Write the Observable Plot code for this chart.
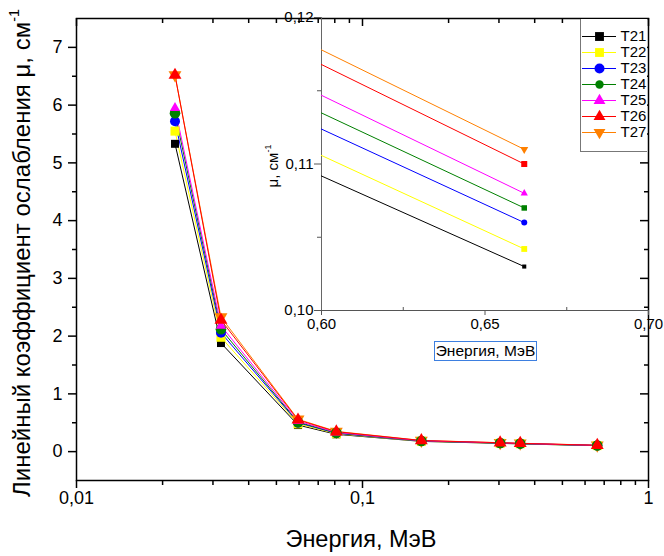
<!DOCTYPE html>
<html><head><meta charset="utf-8">
<script src="https://cdn.jsdelivr.net/npm/d3@7"></script>
<script src="https://cdn.jsdelivr.net/npm/@observablehq/plot@0.6"></script>
<style>
body{margin:0;background:#fff;font-family:"Liberation Sans",Arial,sans-serif;}
#wrap{position:relative;width:664px;height:556px;overflow:hidden;background:#fff;}
.layer{position:absolute;}
.lbl{position:absolute;white-space:nowrap;color:#000;font-family:"Liberation Sans",Arial,sans-serif;}
.lbl sup{font-size:0.6em;vertical-align:0.75em;line-height:0;}
</style></head><body><div id="wrap"></div>
<script>
// ---- data ----
const energies = [0.0221, 0.032, 0.0595, 0.081, 0.1606, 0.3029, 0.356, 0.662];
const seriesNames = ["T21","T22","T23","T24","T25","T26","T27"];
const T21 = [5.33, 1.88, 0.46, 0.300, 0.177, 0.143, 0.1335, 0.1030];
const T22 = [5.55, 1.98, 0.48, 0.310, 0.180, 0.145, 0.1357, 0.1042];
const T23 = [5.72, 2.06, 0.50, 0.318, 0.183, 0.147, 0.1375, 0.1060];
const T24 = [5.86, 2.12, 0.51, 0.325, 0.185, 0.149, 0.1390, 0.1070];
const T25 = [5.95, 2.18, 0.53, 0.332, 0.188, 0.151, 0.1410, 0.1080];
const T26 = [6.52, 2.28, 0.55, 0.345, 0.192, 0.1535, 0.1435, 0.1100];
const T27 = [6.52, 2.33, 0.56, 0.350, 0.194, 0.1545, 0.1445, 0.1110];
const seriesValues = [T21, T22, T23, T24, T25, T26, T27];
const colors = ["#000000","#ffff00","#0000ff","#008000","#ff00ff","#ff0000","#ff8000"];
const xTicks = [0.01, 0.1, 1];
const xMinor = [0.02,0.03,0.04,0.05,0.06,0.07,0.08,0.09,0.2,0.3,0.4,0.5,0.6,0.7,0.8,0.9];
const yTicks = [0,1,2,3,4,5,6,7];
const yMinor = [0.5,1.5,2.5,3.5,4.5,5.5,6.5];
const insetXTicks = [0.60,0.65,0.70];
const insetXMinor = [0.625,0.675];
const insetYTicks = [0.10,0.11,0.12];
const insetYMinor = [0.105,0.115];

// ---- helpers ----
const triDown = {draw(ctx, size){ const y = -Math.sqrt(size/(Math.sqrt(3)*3)); ctx.moveTo(0,-2*y); ctx.lineTo(-Math.sqrt(3)*y, y); ctx.lineTo(Math.sqrt(3)*y, y); ctx.closePath(); }};
const mainSymbols = ["square","square","circle","circle","triangle","triangle",triDown];
const mainR = [4.5, 5.1, 5, 5.3, 3.8, 4.8, 4.8];
const insetSymbols = ["square","square","circle","square","triangle","square",triDown];
const insetR = [2.3, 3.3, 3, 3.1, 2.7, 3.4, 3];
const legendSymbols = ["square","square","circle","circle","triangle","triangle",triDown];
const legendR = [5, 5, 5, 4.2, 4.4, 4.4, 4.4];
const order = [6,0,1,2,3,4,5];
const rowsOf = i => energies.map((e,j)=>({series: seriesNames[i], energy: e, mu: seriesValues[i][j]}));
const comma = d => String(d).replace(".", ",");
const f2 = d => d3.format(".2f")(d).replace(".", ",");
const font = "font-family:'Liberation Sans',Arial,sans-serif;color:#000;background:transparent;overflow:visible;";

const wrap = document.getElementById("wrap");
function place(el, left, top){ const d=document.createElement("div"); d.className="layer"; d.style.left=left+"px"; d.style.top=top+"px"; d.appendChild(el); wrap.appendChild(d); return d; }

// ---- main chart ----
const W=664, H=556, mL=76, mR=16, mT=18, mB=76;
const iW = W-mL-mR, iH = H-mT-mB;
const main = Plot.plot({
  width: W, height: H, marginLeft: mL, marginRight: mR, marginTop: mT, marginBottom: mB,
  style: font + "font-size:18px;",
  x: {type: "log", domain: [0.01, 1]},
  y: {domain: [-0.5, 7.5]},
  marks: [
    Plot.axisX({ticks: xTicks, tickSize: 8, tickPadding: 3, tickFormat: comma, label: null, strokeWidth: 1.5}),
    Plot.axisX({ticks: xMinor, tickSize: 5, tickFormat: () => "", label: null, strokeWidth: 1.5}),
    Plot.axisY({ticks: yTicks, tickSize: 8, tickPadding: 6, tickFormat: d => String(d), label: null, strokeWidth: 1.5}),
    Plot.axisY({ticks: yMinor, tickSize: 4, tickFormat: () => "", label: null, strokeWidth: 1.5}),
    Plot.tickX(xTicks, {x: d => d, insetBottom: iH - 8, stroke: "#000", strokeWidth: 1.5}),
    Plot.tickX(xMinor, {x: d => d, insetBottom: iH - 5, stroke: "#000", strokeWidth: 1.5}),
    Plot.tickY(yTicks, {y: d => d, insetLeft: iW - 8, stroke: "#000", strokeWidth: 1.5}),
    Plot.tickY(yMinor, {y: d => d, insetLeft: iW - 4, stroke: "#000", strokeWidth: 1.5}),
    Plot.frame({stroke: "#000", strokeWidth: 1.5}),
    ...order.map(i => Plot.line(rowsOf(i), {x: "energy", y: "mu", stroke: colors[i], strokeWidth: 1})),
    ...order.map(i => Plot.dot(rowsOf(i), {x: "energy", y: "mu", symbol: mainSymbols[i], r: mainR[i], fill: colors[i], stroke: "none"}))
  ]
});
place(main, 0, 0);

// ---- inset ----
const IW=424, IH=372, imL=81, imR=16, imT=17, imB=62;
const iiH = IH-imT-imB;
const inset = Plot.plot({
  width: IW, height: IH, marginLeft: imL, marginRight: imR, marginTop: imT, marginBottom: imB,
  style: font + "font-size:15px;",
  x: {domain: [0.6, 0.7]},
  y: {domain: [0.10, 0.12]},
  marks: [
    Plot.axisX({ticks: insetXTicks, tickSize: 5, tickPadding: 3, tickFormat: f2, label: null, stroke: "#555"}),
    Plot.tickX(insetXMinor, {x: d => d, insetTop: iiH - 3, stroke: "#555"}),
    Plot.axisY({ticks: insetYTicks, tickSize: 7, tickPadding: 1, tickFormat: f2, label: null, stroke: "#555"}),
    Plot.axisY({ticks: insetYMinor, tickSize: 4, tickFormat: () => "", label: null, stroke: "#555"}),
    Plot.ruleX([0.6], {stroke: "#666"}),
    Plot.ruleY([0.10], {stroke: "#555"}),
    ...order.map(i => Plot.line(rowsOf(i), {x: "energy", y: "mu", stroke: colors[i], strokeWidth: 1, clip: true})),
    ...order.map(i => Plot.dot(rowsOf(i), {x: "energy", y: "mu", symbol: insetSymbols[i], r: insetR[i], fill: colors[i], stroke: "none", clip: true}))
  ]
});
place(inset, 240, 0);

// ---- legend ----
const legendBox = document.createElement("div");
legendBox.style.cssText = "position:absolute;left:580px;top:19px;width:67px;height:133px;box-sizing:border-box;border-left:1px solid #777;border-bottom:1px solid #777;background:#fff;";
wrap.appendChild(legendBox);
const legend = Plot.plot({
  width: 66, height: 132, margin: 0,
  style: font + "font-size:15px;",
  x: {domain: [0, 66], range: [0, 66], axis: null},
  y: {type: "point", domain: seriesNames, range: [8.3, 121.7], axis: null},
  marks: [
    Plot.ruleY(seriesNames, {y: d => d, x1: 1, x2: 35, stroke: (d,i) => colors[i], strokeWidth: 1}),
    ...seriesNames.map((s,i) => Plot.dot([s], {x: 18, y: d => d, symbol: legendSymbols[i], r: legendR[i], fill: colors[i], stroke: "none"})),
    Plot.text(seriesNames, {x: 39, y: d => d, text: d => d, textAnchor: "start", fill: "#000"})
  ]
});
legend.style.position = "absolute"; legend.style.left = "0px"; legend.style.top = "0px";
legendBox.appendChild(legend);

// ---- text labels ----
function label(html, css){ const d=document.createElement("div"); d.className="lbl"; d.innerHTML=html; d.style.cssText += css; wrap.appendChild(d); return d; }
label("Энергия, МэВ", "left:361px;top:539px;font-size:23.5px;transform:translate(-50%,-50%);");
label("Линейный коэффициент ослабления μ, см<sup>-1</sup>", "left:22px;top:253px;font-size:24px;transform:translate(-50%,-50%) rotate(-90deg);");
label("Энергия, МэВ", "left:434px;top:341px;width:103px;height:20px;box-sizing:border-box;border:1px solid #3d7fe0;font-size:15.5px;line-height:18px;text-align:center;");
label("μ, см<sup>-1</sup>", "left:272px;top:166px;font-size:15px;transform:translate(-50%,-50%) rotate(-90deg);");
</script></body></html>
